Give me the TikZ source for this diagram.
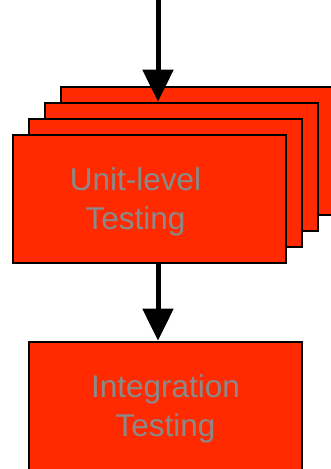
\documentclass[tikz,border=0pt]{standalone}
\usepackage{fontspec}
\setmainfont{Liberation Sans}
\usepackage{tikz}
\usetikzlibrary{arrows.meta, positioning}
\definecolor{TestRed}{HTML}{FF2A00}
\definecolor{TestGray}{HTML}{8A8A8A}

\tikzset{
    testbox/.style={draw=black, fill=TestRed, line width=2.5pt, minimum width=273pt, minimum height=128pt, inner sep=0pt},
    testtext/.style={text=TestGray, align=center, font=\fontsize{31.5}{39}\selectfont},
    flow/.style={line width=5pt, -{Triangle[length=32pt, width=30pt]}}
}

\begin{document}
\begin{tikzpicture}[x=1pt, y=1pt]
            \useasboundingbox (0,0) rectangle (331,469);
            \clip (0,0) rectangle (331,469);
            % stack of unit boxes, back to front
            \node[testbox] (unitd) at (197.5,318) {};
            \node[testbox] (unitc) at (181.5,302) {};
            \node[testbox] (unitb) at (165.5,286) {};
            \node[testbox] (unit) at (149.5,270) {};
            \node[testtext, xshift=-14pt, yshift=-2.5pt] (unittext) at (unit.center) {Unit-level\\Testing};
            \node[testbox] (integ) at (165.5,63) {};
            \node[testtext, yshift=-2.5pt] (integtext) at (integ.center) {Integration\\Testing};
            % arrows
            \coordinate (start) at (158,469);
            \draw[flow] (start) -- (start |- unitc.north);
            \draw[flow] (start |- unit.south) -- (start |- integ.north);
        \end{tikzpicture}
\end{document}
